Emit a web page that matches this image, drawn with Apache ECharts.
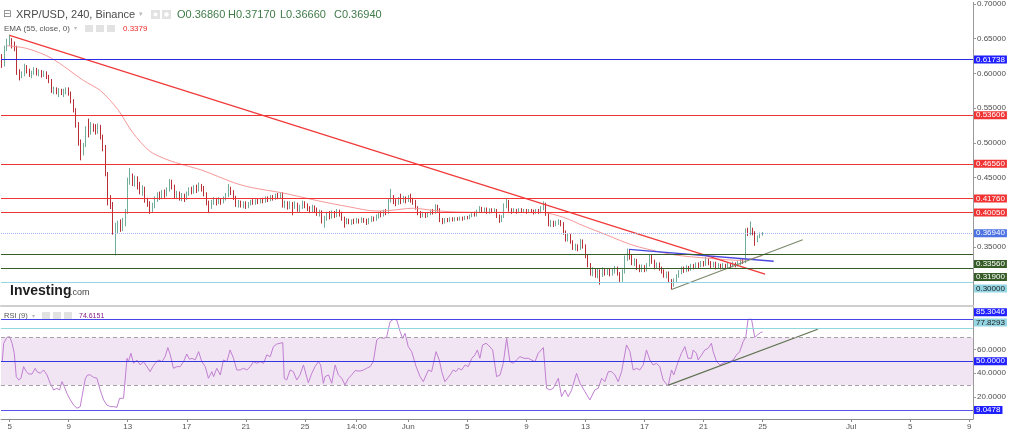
<!DOCTYPE html>
<html>
<head>
<meta charset="utf-8">
<script src="https://cdn.jsdelivr.net/npm/echarts@6.0.0/dist/echarts.min.js"></script>
<style>
    html, body { margin: 0; padding: 0; background: #fff; }
    #chart { width: 1024px; height: 433px; }
</style>
</head>
<body>
<div id="chart"></div>
<script>
// 4h candles, [open, close, low, high]
const candles = [
    [.625,.612,.608,.628],[.612,.636,.610,.640],[.636,.645,.632,.650],[.645,.648,.640,.656],[.648,.641,.636,.651],
    [.641,.638,.632,.646],[.638,.602,.598,.640],[.602,.596,.590,.606],[.596,.599,.593,.603],[.599,.610,.596,.614],
    [.610,.604,.600,.612],[.604,.598,.595,.607],[.598,.601,.593,.604],[.601,.606,.598,.609],[.606,.600,.597,.608],
    [.600,.603,.596,.606],[.603,.598,.594,.605],[.598,.601,.595,.604],[.601,.596,.592,.603],[.596,.590,.586,.598],
    [.590,.575,.572,.592],[.575,.578,.570,.581],[.578,.573,.570,.580],[.573,.576,.566,.579],[.576,.572,.569,.578],
    [.572,.575,.566,.578],[.575,.577,.570,.580],[.577,.571,.568,.580],[.571,.560,.557,.574],[.560,.548,.544,.563],
    [.548,.528,.522,.550],[.528,.500,.496,.530],[.500,.488,.475,.505],[.488,.497,.482,.500],[.497,.520,.494,.524],
    [.520,.515,.508,.535],[.515,.526,.512,.530],[.526,.523,.516,.528],[.523,.516,.512,.527],[.516,.524,.513,.528],
    [.524,.510,.505,.526],[.510,.493,.488,.512],[.493,.455,.452,.497],[.455,.418,.410,.458],[.418,.412,.405,.425],
    [.412,.372,.368,.415],[.372,.378,.338,.385],[.378,.384,.370,.388],[.384,.377,.372,.390],[.377,.386,.373,.392],
    [.386,.402,.380,.405],[.402,.446,.398,.450],[.446,.452,.440,.464],[.452,.445,.438,.456],[.445,.449,.437,.453],
    [.449,.440,.433,.452],[.440,.431,.426,.444],[.431,.435,.424,.439],[.435,.418,.414,.437],[.418,.413,.408,.421],
    [.413,.405,.398,.416],[.405,.411,.400,.414],[.411,.420,.406,.423],[.420,.426,.415,.429],[.426,.422,.418,.430],
    [.422,.429,.419,.432],[.429,.426,.421,.433],[.426,.433,.423,.436],[.433,.444,.430,.448],[.444,.437,.433,.447],
    [.437,.424,.420,.440],[.424,.428,.419,.431],[.428,.421,.417,.430],[.421,.425,.416,.428],[.425,.420,.415,.427],
    [.420,.427,.418,.430],[.427,.433,.424,.436],[.433,.430,.426,.437],[.430,.436,.427,.439],[.436,.432,.428,.440],
    [.432,.438,.430,.443],[.438,.435,.430,.441],[.435,.427,.423,.438],[.427,.414,.410,.429],[.414,.410,.399,.417],
    [.410,.415,.405,.418],[.415,.419,.411,.422],[.419,.414,.410,.421],[.414,.418,.412,.422],[.418,.415,.411,.420],
    [.415,.420,.413,.423],[.420,.425,.417,.428],[.425,.434,.422,.441],[.434,.430,.425,.437],[.430,.421,.418,.432],
    [.421,.412,.408,.424],[.412,.415,.407,.418],[.415,.411,.407,.417],[.411,.414,.406,.416],[.414,.409,.405,.416],
    [.409,.413,.406,.415],[.413,.416,.410,.418],[.416,.413,.411,.419],[.413,.417,.411,.419],[.417,.415,.412,.420],
    [.415,.418,.413,.421],[.418,.416,.413,.421],[.416,.420,.414,.423],[.420,.418,.415,.423],[.418,.422,.416,.425],
    [.422,.420,.417,.425],[.420,.424,.418,.427],[.424,.423,.419,.428],[.423,.426,.420,.429],[.426,.410,.407,.429],
    [.410,.414,.406,.417],[.414,.409,.404,.416],[.409,.413,.405,.416],[.413,.410,.396,.415],[.410,.412,.405,.416],
    [.412,.405,.401,.414],[.405,.408,.400,.411],[.408,.414,.405,.417],[.414,.410,.406,.416],[.410,.406,.402,.413],
    [.406,.403,.399,.409],[.403,.408,.400,.411],[.408,.404,.399,.410],[.404,.398,.395,.407],[.398,.401,.394,.404],
    [.401,.388,.384,.403],[.388,.392,.378,.395],[.392,.398,.388,.401],[.398,.394,.390,.402],[.394,.399,.391,.403],
    [.399,.396,.392,.402],[.396,.401,.393,.405],[.401,.398,.394,.404],[.398,.392,.388,.401],[.392,.386,.378,.394],
    [.386,.389,.383,.392],[.389,.386,.383,.391],[.386,.388,.382,.390],[.388,.386,.383,.391],[.386,.389,.384,.392],
    [.389,.387,.384,.391],[.387,.390,.385,.393],[.390,.388,.385,.392],[.388,.386,.382,.391],[.386,.389,.383,.392],
    [.389,.392,.386,.395],[.392,.390,.387,.394],[.390,.394,.388,.397],[.394,.398,.391,.401],[.398,.396,.393,.402],
    [.396,.401,.394,.404],[.401,.400,.396,.405],[.400,.417,.398,.420],[.417,.422,.414,.434],[.422,.416,.412,.425],
    [.416,.414,.409,.419],[.414,.419,.411,.422],[.419,.417,.412,.427],[.417,.421,.414,.424],[.421,.418,.413,.423],
    [.418,.422,.415,.425],[.422,.419,.414,.427],[.419,.416,.411,.421],[.416,.407,.404,.418],[.407,.400,.396,.409],
    [.400,.396,.392,.402],[.396,.398,.393,.401],[.398,.395,.392,.400],[.395,.399,.393,.401],[.399,.402,.396,.404],
    [.402,.400,.397,.405],[.400,.409,.398,.412],[.409,.404,.401,.411],[.404,.390,.386,.406],[.390,.387,.383,.392],
    [.387,.390,.384,.392],[.390,.388,.386,.392],[.388,.391,.386,.393],[.391,.389,.387,.393],[.389,.391,.387,.393],
    [.391,.390,.388,.393],[.390,.392,.388,.394],[.392,.390,.388,.394],[.390,.393,.389,.395],[.393,.392,.390,.395],
    [.392,.395,.390,.397],[.395,.398,.393,.400],[.398,.396,.394,.401],[.396,.401,.394,.404],[.401,.406,.399,.409],
    [.406,.403,.400,.408],[.403,.405,.399,.407],[.405,.401,.398,.407],[.401,.404,.398,.406],[.404,.402,.399,.406],
    [.402,.403,.399,.406],[.403,.395,.392,.405],[.395,.389,.385,.397],[.389,.394,.386,.396],[.394,.410,.392,.413],
    [.410,.416,.406,.420],[.416,.404,.401,.418],[.404,.401,.398,.406],[.401,.403,.399,.406],[.403,.401,.398,.405],
    [.401,.404,.399,.406],[.404,.402,.400,.406],[.402,.403,.399,.405],[.403,.401,.398,.405],[.401,.403,.399,.405],
    [.403,.402,.399,.405],[.402,.400,.397,.404],[.400,.403,.398,.405],[.403,.401,.398,.405],[.401,.406,.399,.409],
    [.406,.412,.403,.416],[.412,.398,.395,.414],[.398,.383,.380,.400],[.383,.386,.379,.389],[.386,.382,.379,.388],
    [.382,.385,.380,.388],[.385,.387,.382,.390],[.387,.383,.380,.389],[.383,.372,.368,.386],[.372,.362,.358,.374],
    [.362,.367,.358,.370],[.367,.358,.355,.369],[.358,.349,.346,.360],[.349,.352,.345,.355],[.352,.348,.344,.354],
    [.348,.359,.346,.362],[.359,.352,.348,.361],[.352,.338,.334,.354],[.338,.325,.321,.340],[.325,.313,.309,.327],
    [.313,.318,.308,.321],[.318,.312,.306,.320],[.312,.316,.305,.319],[.316,.311,.296,.318],[.311,.318,.307,.321],
    [.318,.313,.309,.320],[.313,.317,.310,.320],[.317,.311,.308,.319],[.311,.316,.309,.319],[.316,.320,.312,.323],
    [.320,.312,.309,.322],[.312,.303,.300,.314],[.303,.315,.300,.318],[.315,.334,.312,.338],[.334,.345,.330,.348],
    [.345,.336,.332,.347],[.336,.328,.324,.339],[.328,.331,.323,.334],[.331,.322,.317,.333],[.322,.318,.314,.325],
    [.318,.322,.314,.325],[.322,.317,.314,.324],[.317,.325,.315,.327],[.325,.337,.322,.340],[.337,.330,.326,.339],
    [.330,.322,.318,.332],[.322,.326,.319,.328],[.326,.320,.316,.328],[.320,.316,.312,.322],[.316,.310,.306,.318],
    [.310,.313,.305,.315],[.313,.302,.299,.315],[.302,.296,.289,.304],[.296,.303,.293,.305],[.303,.309,.300,.311],
    [.309,.314,.306,.317],[.314,.319,.311,.322],[.319,.316,.313,.322],[.316,.321,.314,.324],[.321,.318,.315,.323],
    [.318,.323,.316,.326],[.323,.321,.318,.326],[.321,.325,.319,.328],[.325,.323,.320,.328],[.323,.327,.321,.330],
    [.327,.325,.322,.330],[.325,.331,.323,.336],[.331,.328,.324,.334],[.328,.324,.320,.330],[.324,.327,.321,.329],
    [.327,.322,.318,.329],[.322,.324,.319,.327],[.324,.321,.318,.326],[.321,.324,.319,.327],[.324,.322,.319,.326],
    [.322,.325,.320,.328],[.325,.323,.320,.327],[.323,.326,.321,.329],[.326,.324,.321,.328],[.324,.327,.322,.330],
    [.327,.331,.324,.333],[.331,.329,.326,.334],[.329,.373,.327,.377],[.373,.370,.366,.378],[.370,.375,.367,.387],
    [.375,.371,.367,.378],[.371,.361,.352,.373],[.361,.365,.357,.367],[.365,.368,.363,.371],[.3686,.3694,.3666,.3717]
];

// EMA(55), [bar, value]
const emaPoints = [
    [2,.640],[10,.636],[20,.622],[33,.590],[40,.575],[47,.548],[53,.515],[60,.488],[67,.476],[74,.468],
    [81,.461],[94,.443],[101,.436],[114,.428],[128,.417],[141,.408],[152,.402],[158,.403],[167,.406],[175,.403],
    [182,.401],[196,.400],[209,.400],[219,.400],[228,.393],[236,.381],[246,.367],[253,.357],[259,.350],[273,.339],
    [287,.334],[300,.331],[304,.333],[309,.3379]
];

// RSI(9), [bar, value]
const rsiPoints = [
    [0,49.7],[0.6,65.1],[1.9,70.1],[3,70.7],[4,65.1],[4.9,56.7],[5.7,37.1],[6.7,34.3],[7.6,35.7],[8.7,45.5],
    [9.8,41.3],[10.7,39.3],[12.1,39.3],[12.8,39.9],[13.4,44.1],[14.1,41.3],[15.5,39.9],[16.8,42.7],[18.2,38.5],[19.5,31.5],
    [20.9,25.9],[22.2,27.3],[23.3,25.9],[24.3,32.9],[25.2,28.7],[26.3,23.1],[27.7,17.5],[29,13.3],[30.4,10.5],[31,9.05],
    [31.7,11.9],[32.4,20.3],[33.8,35.7],[34.7,38.5],[35.8,38.5],[37.1,36.5],[38.5,35.7],[39.8,25.9],[41.2,17.5],[42.5,13.3],
    [43.9,11.9],[45.3,11.9],[46.6,11.3],[47.7,18.9],[49.3,18.9],[50,18.9],[50.7,52.5],[51.3,49.7],[52.3,56.7],[53.4,48.3],
    [54.7,51.1],[56.1,46.9],[57.4,49.7],[58.8,45.5],[60.1,41.3],[61.2,45.5],[62.2,48.3],[63.5,51.1],[64.9,49.7],[66.2,53.9],
    [67.3,61.5],[68.3,55.3],[69.6,44.1],[71,45.5],[72.3,45.5],[73.7,49.7],[75,56.1],[76.1,51.7],[77.1,52.5],[78.4,51.1],
    [79.8,58.1],[81.1,49.7],[82.5,45.5],[83.8,35.7],[85.2,41.3],[85.9,37.1],[87.2,44.1],[88.6,38.5],[89.9,51.1],[91.3,49.7],
    [92.6,59.5],[94,52.5],[95.3,42.7],[96.7,42.7],[98,44.1],[99.4,42.7],[100.8,45.5],[102.1,49.7],[103.5,48.3],[104.8,49.7],
    [106.2,48.3],[107.5,55.3],[108.9,53.9],[110.2,62.3],[111.6,64.5],[114,65.7],[114.6,35.7],[115.6,34.3],[117,42.7],[118.3,41.3],
    [119.7,34.3],[121,38.5],[122.4,46.9],[123.1,48.3],[124.4,32],[125.8,39.9],[127.1,45.5],[128.5,49.7],[129.4,46.9],[130.5,31.5],
    [131.2,37.1],[132.6,38.5],[133.9,31.5],[135.3,46.9],[136.6,38.5],[138,35.7],[139.3,30.1],[140.7,35.7],[142,38.5],[143.4,42.1],
    [145.4,41.8],[146.8,42.7],[148.1,44.1],[149.5,45.5],[150.8,49.7],[152.2,67.9],[153.5,70.1],[154.9,69.3],[156.2,70.1],[157.6,83.3],
    [159,85.3],[160.3,84.7],[161.3,77.7],[161.7,74.9],[162.7,69.3],[163.7,73.5],[165,62.3],[166.4,58.1],[167.1,59.5],[168.2,45.5],
    [169.8,37.1],[171.1,32.9],[171.8,32.9],[173.2,42.7],[174.5,41.3],[176.3,58.1],[177.6,51.1],[178.6,41.3],[179.9,32.9],[180.6,32.9],
    [182,38.5],[183.3,42.7],[184.4,41.3],[185.4,44.1],[186.7,42.7],[188.1,46.9],[189.4,45.5],[190.8,52.5],[192.1,55.3],[193.1,59.5],
    [194.1,52.5],[195.2,63.7],[196.6,65.1],[197.5,63.7],[199.3,59.5],[200.9,37.1],[202.3,38.5],[203.6,48.3],[205,69.3],[206.3,49.7],
    [207.7,48.3],[209,51.1],[210.4,53.9],[212,52.5],[213.8,52.5],[215.1,51.1],[216.5,49.7],[217.8,56.7],[219.9,61.5],[221.2,27.3],
    [222.6,25.9],[223.9,27.3],[226,35.7],[227.3,20.3],[228.7,25.9],[230,20.3],[231.4,25.9],[233.4,39.9],[234.8,31.5],[236.8,24.5],
    [238.8,17.5],[240.8,25.9],[242.2,27.3],[243.6,35.7],[244.9,32.9],[246.3,41.3],[247.6,41.3],[249,38.5],[250.3,32.9],[251.7,41.3],
    [253.7,63.7],[255.1,58.1],[256.4,42.7],[257.8,44.1],[259.1,42.7],[260.5,46.9],[261.8,59.5],[263.2,51.1],[264.5,46.9],[265.9,48.3],
    [267.2,45.5],[268.6,34.3],[270.6,29.2],[272,42.7],[272.9,38.5],[274.7,49.7],[276,56.7],[277.4,62.3],[278.7,52.5],[280.1,52.5],
    [280.8,59.5],[282.1,56.7],[282.8,51.1],[284.2,55.3],[285.5,59.5],[286.9,60.9],[288.2,65.1],[288.9,58.1],[289.6,59.5],[290.3,49.7],
    [291.6,46.9],[293,48.3],[294.3,49.7],[295.7,49.7],[297,51.1],[298.4,55.3],[299.7,58.1],[301.1,66.5],[302.2,70.7],[303.1,85.3],
    [304.5,85.3],[305.8,70.1],[306.9,72.1],[308.3,74.3],[309,74.6151]
];

// drawn lines, [bar, value] end points
const trendDown = [[3, 0.655], [310, 0.311]];
const resistance = [[254.7, 0.3468], [313.5, 0.3297]];
const supportUp = [[272, 0.2891], [325.3, 0.3606]];
const rsiTrend = [[270.5, 29.8], [331.4, 76.9]];

// horizontal levels
const priceLevels = [0.61738, 0.53606, 0.4656, 0.4176, 0.4005, 0.3694, 0.3356, 0.319, 0.30];
const emaLast = 0.33787;
const rsiLevels = [85.3046, 77.8293, 50, 9.0478];
const rsiLast = 74.6151;
const rsiBand = [30, 70];

// axes
const barCount = 395;
const dayTicks = [3, 27, 51, 75, 99, 123, 144, 165, 189, 213, 237, 261, 285, 309, 345, 369, 393];
const dayLabels = ['5', '9', '13', '17', '21', '25', '14:00', 'Jun', '5', '9', '13', '17', '21', '25', 'Jul', '5', '9'];
const priceTicks = [0.70, 0.65, 0.60, 0.55, 0.50, 0.45, 0.35];
const rsiTicks = [60, 40, 20];

const FONT = 'Liberation Sans';
const RED = '#f03434';
const BLUE = '#1f1fff';
const GREEN = '#365c28';
const CYAN = '#94d6e4';

// line colour, line type, label background, label text, label shift
const priceLevelStyle = [
    ['#2a2ae6', 'solid', BLUE, '#fff', 0],
    [RED, 'solid', RED, '#fff', 0],
    [RED, 'solid', RED, '#fff', 0],
    [RED, 'solid', RED, '#fff', 0],
    [RED, 'solid', RED, '#fff', 0],
    ['#9db2ee', 'dotted', '#4c72e4', '#fff', 0],
    [GREEN, 'solid', GREEN, '#fff', 10],
    [GREEN, 'solid', GREEN, '#fff', 9],
    [CYAN, 'solid', CYAN, '#1a1a1a', 6.5]
];
const rsiLevelStyle = [
    ['#4646e8', 'solid', BLUE, '#fff', -7],
    ['#8fd8e2', 'solid', CYAN, '#1a1a1a', -5.6],
    ['#3434e0', 'solid', BLUE, '#fff', 0],
    ['#5656ee', 'solid', BLUE, '#fff', 0]
];

function levelItem(value, digits, style) {
    return {
        yAxis: value,
        lineStyle: style[0] ? { color: style[0], type: style[1], width: 1 } : { opacity: 0 },
        label: {
            show: true,
            position: 'end',
            distance: 1,
            formatter: value.toFixed(digits),
            backgroundColor: style[2],
            color: style[3],
            fontFamily: FONT,
            fontSize: 8,
            lineHeight: 8,
            padding: [0, 2, 0, 2],
            offset: [0, style[4]]
        }
    };
}

const chart = echarts.init(document.getElementById('chart'), null, { renderer: 'canvas' });

const option = {
    animation: false,
    backgroundColor: '#fff',
    textStyle: { fontFamily: FONT },
    grid: [
        { left: 1, right: 51, top: 0, height: 306 },
        { left: 1, right: 51, top: 307, bottom: 14 }
    ],
    xAxis: [
        {
            type: 'category', gridIndex: 0,
            data: Array.from({ length: barCount }, (_, i) => i),
            boundaryGap: true,
            axisLine: { show: true, onZero: false, lineStyle: { color: '#cfcfcf', width: 2 } },
            axisTick: { show: false }, axisLabel: { show: false }, splitLine: { show: false }
        },
        {
            type: 'value', gridIndex: 0, min: -0.5, max: barCount - 0.5, show: false
        },
        {
            type: 'value', gridIndex: 1, min: -0.5, max: barCount - 0.5,
            axisLine: { show: true, onZero: false, lineStyle: { color: '#8c8c8c' } },
            axisTick: { show: true, customValues: dayTicks, length: 3, lineStyle: { color: '#8c8c8c' } },
            axisLabel: {
                show: true, customValues: dayTicks, fontSize: 8, color: '#555', margin: 4,
                formatter: v => dayLabels[dayTicks.indexOf(Math.round(v))] || ''
            },
            splitLine: { show: false }
        }
    ],
    yAxis: [
        {
            type: 'value', gridIndex: 0, position: 'right', min: 0.26529, max: 0.70243,
            axisLine: { show: true, onZero: false, lineStyle: { color: '#9a9a9a' } },
            axisTick: { show: true, customValues: priceTicks, length: 3, lineStyle: { color: '#9a9a9a' } },
            axisLabel: {
                show: true, customValues: priceTicks, fontSize: 8, color: '#4d4d4d', margin: 4,
                formatter: v => v.toFixed(5)
            },
            splitLine: { show: false }
        },
        {
            type: 'value', gridIndex: 1, position: 'right', min: 1.5, max: 95.6,
            axisLine: { show: true, onZero: false, lineStyle: { color: '#9a9a9a' } },
            axisTick: { show: true, customValues: rsiTicks, length: 3, lineStyle: { color: '#9a9a9a' } },
            axisLabel: {
                show: true, customValues: rsiTicks, fontSize: 8, color: '#4d4d4d', margin: 4,
                formatter: v => v.toFixed(4)
            },
            splitLine: { show: false }
        }
    ],
    series: [
        {
            name: 'XRP/USD',
            type: 'candlestick',
            xAxisIndex: 0, yAxisIndex: 0,
            barWidth: 1.3,
            data: candles,
            itemStyle: {
                color: '#23a386',
                color0: '#a3131b',
                borderColor: '#5fa48f',
                borderColor0: '#b0171f',
                borderWidth: 0.9
            },
            markLine: {
                silent: true, symbol: ['none', 'none'],
                data: priceLevels.map((v, i) => levelItem(v, 5, priceLevelStyle[i]))
                    .concat([levelItem(emaLast, 5, [null, null, RED, '#fff', 0])])
            }
        },
        {
            name: 'EMA',
            type: 'line', xAxisIndex: 1, yAxisIndex: 0,
            data: emaPoints, symbol: 'none', smooth: 0.3,
            lineStyle: { color: '#f59898', width: 1 }
        },
        {
            type: 'line', xAxisIndex: 1, yAxisIndex: 0, data: trendDown, symbol: 'none',
            lineStyle: { color: '#f03a3a', width: 1.3 }
        },
        {
            type: 'line', xAxisIndex: 1, yAxisIndex: 0, data: resistance, symbol: 'none',
            lineStyle: { color: '#4848e0', width: 1.3 }
        },
        {
            type: 'line', xAxisIndex: 1, yAxisIndex: 0, data: supportUp, symbol: 'none',
            lineStyle: { color: '#7a8a6a', width: 1.2 }
        },
        {
            name: 'RSI',
            type: 'line', xAxisIndex: 2, yAxisIndex: 1,
            data: rsiPoints, symbol: 'none',
            lineStyle: { color: '#c07fd2', width: 1 },
            markArea: {
                silent: true,
                itemStyle: { color: '#f2e5f3' },
                data: [[{ yAxis: rsiBand[0] }, { yAxis: rsiBand[1] }]]
            },
            markLine: {
                silent: true, symbol: ['none', 'none'],
                data: rsiLevels.map((v, i) => levelItem(v, 4, rsiLevelStyle[i]))
                    .concat([levelItem(rsiLast, 4, [null, null, '#7f1a80', '#fff', 0])])
                    .concat(rsiBand.map(v => ({
                        yAxis: v,
                        lineStyle: { color: '#a8a0a8', type: [4, 3], width: 1 },
                        label: { show: false }
                    })))
            }
        },
        {
            type: 'line', xAxisIndex: 2, yAxisIndex: 1, data: rsiTrend, symbol: 'none',
            lineStyle: { color: '#5f7352', width: 1.2 }
        }
    ],
    graphic: [
        // main legend
        { type: 'text', x: 3, y: 14, style: { text: '⊟', fontFamily: 'DejaVu Sans', fontSize: 10, fill: '#777', verticalAlign: 'middle' } },
        { type: 'text', x: 16, y: 14.5, style: { text: 'XRP/USD, 240, Binance', fontFamily: FONT, fontSize: 11, fill: '#4a4a4a', verticalAlign: 'middle' } },
        { type: 'text', x: 139, y: 14, style: { text: '▾', fontFamily: 'DejaVu Sans', fontSize: 7, fill: '#bbb', verticalAlign: 'middle' } },
        { type: 'rect', shape: { x: 151, y: 10, width: 9, height: 9 }, style: { fill: '#e2e2e2' } },
        { type: 'rect', shape: { x: 162, y: 10, width: 9, height: 9 }, style: { fill: '#e2e2e2' } },
        { type: 'circle', shape: { cx: 155.5, cy: 14.5, r: 2 }, style: { fill: '#fff' } },
        { type: 'circle', shape: { cx: 166.5, cy: 14.5, r: 2.3 }, style: { fill: '#fff' } },
        { type: 'text', x: 177, y: 14.5, style: { text: 'O0.36860', fontFamily: FONT, fontSize: 11, fill: '#3f7a48', verticalAlign: 'middle' } },
        { type: 'text', x: 228, y: 14.5, style: { text: 'H0.37170', fontFamily: FONT, fontSize: 11, fill: '#3f7a48', verticalAlign: 'middle' } },
        { type: 'text', x: 280, y: 14.5, style: { text: 'L0.36660', fontFamily: FONT, fontSize: 11, fill: '#3f7a48', verticalAlign: 'middle' } },
        { type: 'text', x: 334, y: 14.5, style: { text: 'C0.36940', fontFamily: FONT, fontSize: 11, fill: '#3f7a48', verticalAlign: 'middle' } },
        // EMA legend
        { type: 'text', x: 4, y: 28.5, style: { text: 'EMA (55, close, 0)', fontFamily: FONT, fontSize: 8, fill: '#555', verticalAlign: 'middle' } },
        { type: 'text', x: 74, y: 28.5, style: { text: '▾', fontFamily: 'DejaVu Sans', fontSize: 6, fill: '#bbb', verticalAlign: 'middle' } },
        { type: 'rect', shape: { x: 85, y: 25, width: 8, height: 7 }, style: { fill: '#e2e2e2' } },
        { type: 'rect', shape: { x: 96, y: 25, width: 8, height: 7 }, style: { fill: '#e2e2e2' } },
        { type: 'rect', shape: { x: 107, y: 25, width: 8, height: 7 }, style: { fill: '#e2e2e2' } },
        { type: 'text', x: 123, y: 28.5, style: { text: '0.3379', fontFamily: FONT, fontSize: 8, fill: '#f02828', verticalAlign: 'middle' } },
        // RSI legend
        { type: 'text', x: 4, y: 316, style: { text: 'RSI (9)', fontFamily: FONT, fontSize: 7.5, fill: '#555', verticalAlign: 'middle' } },
        { type: 'text', x: 32, y: 316, style: { text: '▾', fontFamily: 'DejaVu Sans', fontSize: 6, fill: '#bbb', verticalAlign: 'middle' } },
        { type: 'rect', shape: { x: 42, y: 312, width: 8, height: 7 }, style: { fill: '#e2e2e2' } },
        { type: 'rect', shape: { x: 53, y: 312, width: 8, height: 7 }, style: { fill: '#e2e2e2' } },
        { type: 'rect', shape: { x: 64, y: 312, width: 8, height: 7 }, style: { fill: '#e2e2e2' } },
        { type: 'text', x: 79, y: 316, style: { text: '74.6151', fontFamily: FONT, fontSize: 7, fill: '#8a1c8a', verticalAlign: 'middle' } },
        // watermark logo
        { type: 'text', x: 10, y: 291, style: { text: 'Investing', fontFamily: FONT, fontWeight: 'bold', fontSize: 14, fill: '#1e1e1e', verticalAlign: 'middle' } },
        { type: 'text', x: 70, y: 293, style: { text: '.com', fontFamily: FONT, fontSize: 9, fill: '#444', verticalAlign: 'middle' } }
    ]
};

chart.setOption(option);
</script>
</body>
</html>
